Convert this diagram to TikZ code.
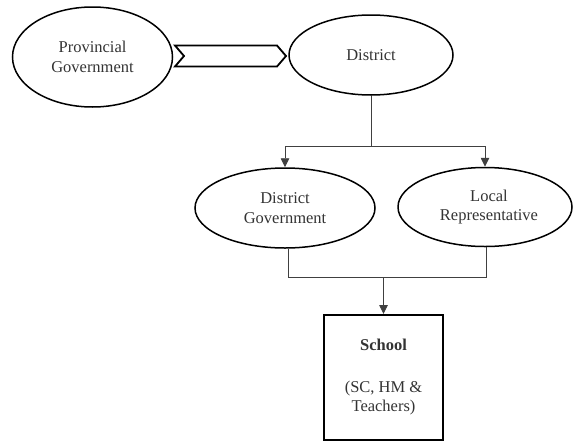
\documentclass[tikz,border=0pt]{standalone}
\usepackage{fontspec}
\setmainfont{Liberation Serif}
\usetikzlibrary{shapes.geometric,arrows.meta}
\begin{document}
\begin{tikzpicture}[x=1pt,y=-1pt,
  txt/.style={font=\fontsize{16.5}{19.5}\selectfont, text=black!80, align=center},
  oval/.style={ellipse, draw=black, line width=1.5pt, inner sep=0pt, txt},
  conn/.style={draw=black!75, line width=0.9pt},
  arr/.style={conn, -{Triangle[length=9pt,width=8.5pt]}},
  boxst/.style={draw=black, line width=2pt, inner sep=0pt, txt}]
\useasboundingbox (0,0) rectangle (577,442);
\node[oval, minimum width=160pt, minimum height=100pt] (prov) at (92.5,57) {Provincial\\Government};
\node[oval, minimum width=164pt, minimum height=80pt] (dist) at (371,55) {District};
\node[oval, minimum width=180pt, minimum height=80pt] (dgov) at (285,208) {District\\Government};
\node[oval, minimum width=174pt, minimum height=79pt] (lrep) at (485,207) {\hspace*{8pt}Local\\\hspace*{8pt}Representative};
\node[boxst, minimum width=119pt, minimum height=125pt] (school) at (383.5,377.5)
  {\textbf{School}\\[22pt](SC, HM \&\\Teachers)};
% chevron connector
\coordinate (c1) at (175,45.5);
\coordinate (c2) at (184,56);
\coordinate (c3) at (175,66.5);
\coordinate (c4) at (277,66.5);
\coordinate (c5) at (286,56);
\coordinate (c6) at (277,45.5);
\draw[line width=1.8pt, line join=miter] (c1) -- (c2) -- (c3) -- (c4) -- (c5) -- (c6) -- cycle;
% tree connectors
\coordinate (j1) at (dist.south |- 0,146);
\coordinate (jl) at (dgov.north |- j1);
\coordinate (jr) at (lrep.north |- j1);
\draw[conn] (dist.south) -- (j1);
\draw[conn] (jl) -- (jr);
\draw[arr] (jl) -- (dgov.north);
\draw[arr] (jr) -- (lrep.north);
\coordinate (kl) at (288,277);
\coordinate (kr) at (486,277);
\coordinate (km) at (school.north |- kl);
\draw[conn] (dgov.south -| kl) -- (kl) -- (kr) -- (lrep.south -| kr);
\draw[arr] (km) -- (school.north);
\end{tikzpicture}
\end{document}
